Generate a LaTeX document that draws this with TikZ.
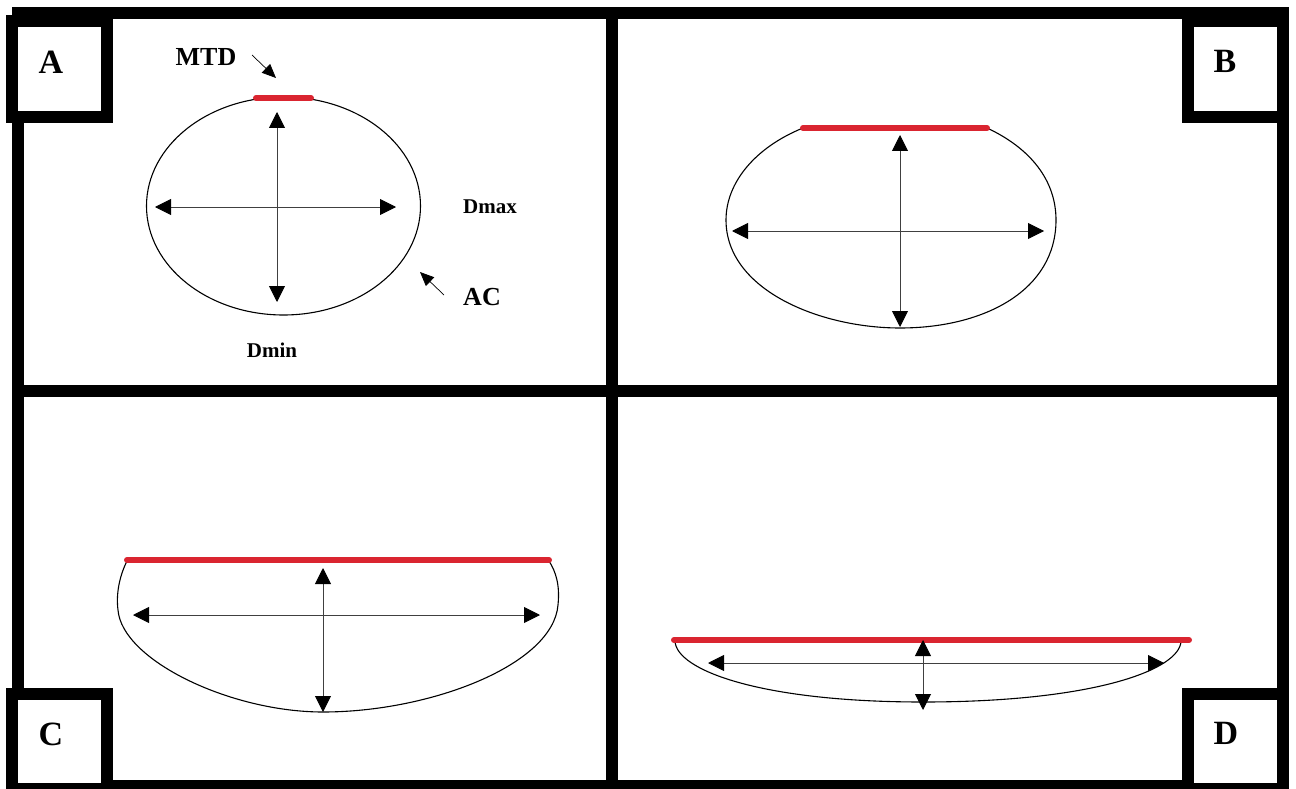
\documentclass[tikz,border=0pt]{standalone}
\usepackage{fontspec}
\setmainfont{Liberation Serif}
\usetikzlibrary{arrows.meta}
\definecolor{mtdred}{RGB}{218,37,48}
\tikzset{
  framebar/.style={line width=12pt, black},
  labbox/.style={line width=12pt, draw=black, fill=white},
  labtxt/.style={font=\fontsize{34}{34}\selectfont\bfseries, anchor=base, inner sep=0pt},
  bigtxt/.style={font=\fontsize{26}{26}\selectfont\bfseries, anchor=base, inner sep=0pt},
  smalltxt/.style={font=\fontsize{21}{21}\selectfont\bfseries, anchor=base, inner sep=0pt},
  outline/.style={line width=1.1pt, black},
  mtd/.style={line width=6pt, mtdred, line cap=round},
  dimarrow/.style={line width=0.9pt, black!75, {Triangle[length=16pt,width=16pt,black]}-{Triangle[length=16pt,width=16pt,black]}},
  pointer/.style={line width=0.7pt, black, -{Triangle[length=14pt,width=12pt]}}
}
\begin{document}
\begin{tikzpicture}[x=1pt,y=-1pt]
\useasboundingbox (0,0) rectangle (1296,789);
\fill[white] (0,0) rectangle (1296,789);
% frame
\draw[framebar] (18,13) rectangle (1283,786);
\draw[framebar] (612,13) -- (612,786);
\draw[framebar] (18,391) -- (1283,391);
% label boxes
\draw[labbox] (12,21) rectangle (107,117);
\draw[labbox] (1188,21) rectangle (1283,117);
\draw[labbox] (12,694) rectangle (107,789);
\draw[labbox] (1188,694) rectangle (1283,789);
\node[labtxt] (labA) at (51,74) {A};
\node[labtxt] (labB) at (1225,73) {B};
\node[labtxt] (labC) at (51,745) {C};
\node[labtxt] (labD) at (1226,744) {D};

% ---------- Panel A ----------
\draw[outline] (283.5,206) ellipse [x radius=137, y radius=109];
\draw[mtd] (256,98) -- (311,98);
\coordinate (aT) at (277,112); \coordinate (aB) at (277,302);
\coordinate (aL) at (155,207); \coordinate (aR) at (396,207);
\draw[dimarrow] (aT) -- (aB);
\draw[dimarrow] (aL) -- (aR);
\node[bigtxt] (mtdlab) at (206,66) {MTD};
\node[bigtxt] (aclab) at (482,305) {AC};
\node[smalltxt] (dmaxlab) at (490,213) {Dmax};
\node[smalltxt] (dminlab) at (272,357) {Dmin};
\coordinate (mtdS) at (252,55); \coordinate (mtdE) at (276,78);
\draw[pointer] (mtdS) -- (mtdE);
\coordinate (acS) at (444,295); \coordinate (acE) at (420,272);
\draw[pointer] (acS) -- (acE);

% ---------- Panel B ----------
\draw[outline] (803,128) .. controls (756,147) and (726,182) .. (726,220)
  .. controls (726,290) and (820,328) .. (900,328)
  .. controls (985,328) and (1056,290) .. (1056,220)
  .. controls (1056,180) and (1030,148) .. (987,128);
\draw[mtd] (803,128) -- (987,128);
\coordinate (bT) at (900,135); \coordinate (bB) at (900,327);
\coordinate (bL) at (732,231); \coordinate (bR) at (1044,231);
\draw[dimarrow] (bT) -- (bB);
\draw[dimarrow] (bL) -- (bR);

% ---------- Panel C ----------
\draw[outline] (127,561) .. controls (119,577) and (116,595) .. (118,610)
  .. controls (122,660) and (230,712) .. (323,712)
  .. controls (430,712) and (553,665) .. (558,605)
  .. controls (560,585) and (556,572) .. (549,561);
\draw[mtd] (127,560) -- (549,560);
\coordinate (cT) at (323,568); \coordinate (cB) at (323,712);
\coordinate (cL) at (133,615); \coordinate (cR) at (540,615);
\draw[dimarrow] (cT) -- (cB);
\draw[dimarrow] (cL) -- (cR);

% ---------- Panel D ----------
\draw[outline] (675,641) .. controls (676,670) and (760,702) .. (923,702)
  .. controls (1093,702) and (1180,670) .. (1181,641);
\draw[mtd] (674,640) -- (1189,640);
\coordinate (dT) at (923,640); \coordinate (dB) at (923,710);
\coordinate (dL) at (708,663); \coordinate (dR) at (1164,663);
\draw[dimarrow] (dT) -- (dB);
\draw[dimarrow] (dL) -- (dR);
\end{tikzpicture}
\end{document}
